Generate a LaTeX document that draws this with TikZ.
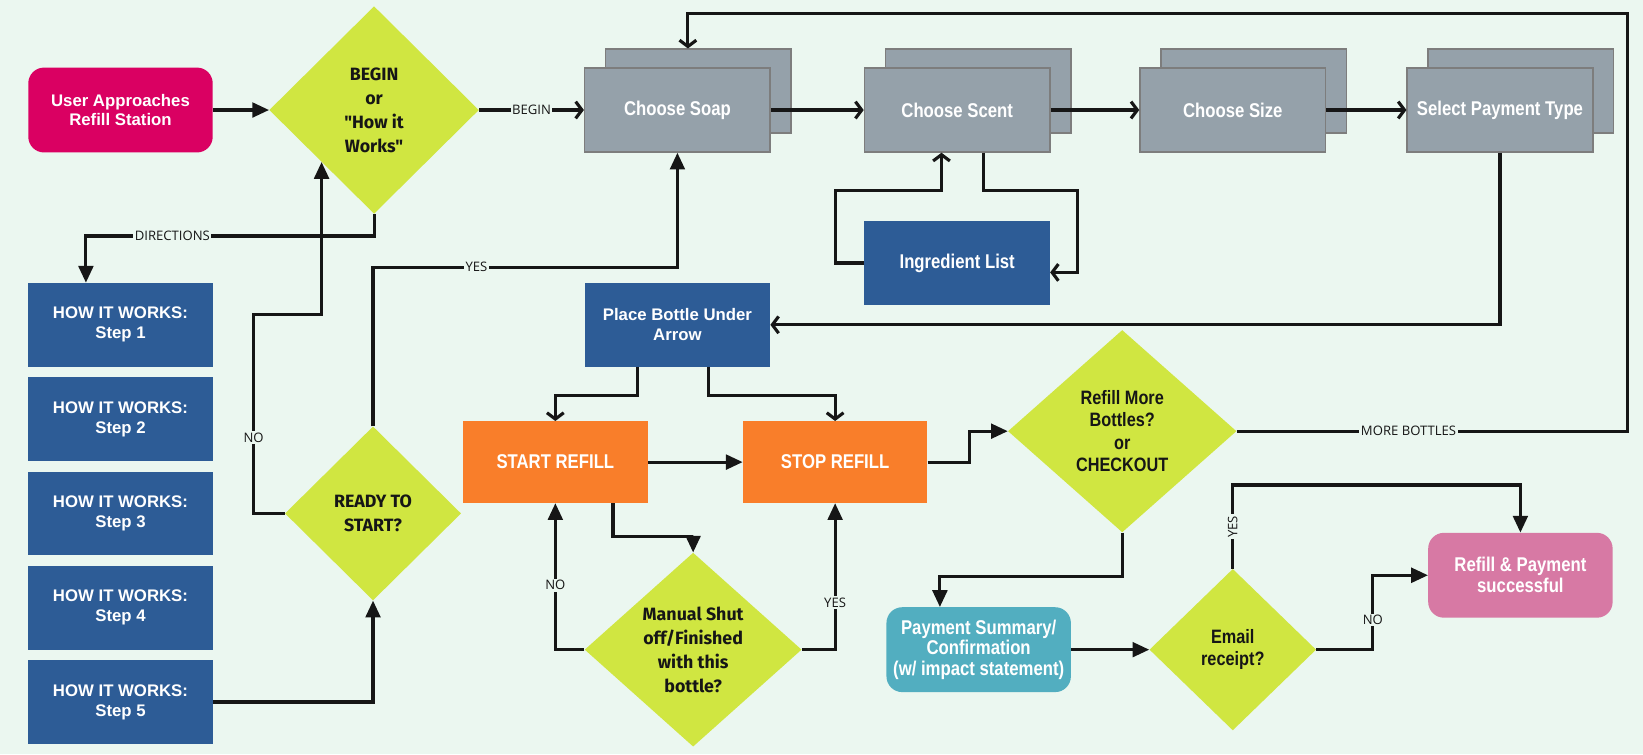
\documentclass[tikz,border=0pt]{standalone}
\usepackage{fontspec}
\setmainfont{Liberation Sans}
\newfontfamily\narrowfont[FakeStretch=0.84]{Liberation Sans}
\newfontfamily\plexfont{Fira Sans}
\newfontfamily\tagfont{Open Sans}
\usetikzlibrary{%
  arrows.meta,%
  shapes.geometric,%
  shadows,%
  calc%
}
\definecolor{bgmint}{HTML}{EBF7F0}
\definecolor{lime}{HTML}{D0E641}
\definecolor{stepblue}{HTML}{2D5C96}
\definecolor{soapgray}{HTML}{95A1AA}
\definecolor{soapedge}{HTML}{7D7D7D}
\definecolor{refillorange}{HTML}{F97E2A}
\definecolor{startpink}{HTML}{DA0062}
\definecolor{paycyan}{HTML}{52AEC0}
\definecolor{donepink}{HTML}{D779A4}
\definecolor{ink}{HTML}{161616}

\begin{document}
\begin{tikzpicture}[x=1pt,y=-1pt,
    wire/.style={line width=3pt,draw=ink},
    fwd/.style={wire,-{Triangle[length=16pt,width=14pt]}},
    opn/.style={wire,-{Straight Barb[length=6pt,width=16pt]}},
    lbl/.style={fill=bgmint,inner sep=1.5pt,text=ink,font=\tagfont\fontsize{12.5}{12.5}\selectfont},
    stepbox/.style={rectangle,fill=stepblue,minimum width=177pt,minimum height=80pt,inner sep=0pt,
      text=white,align=center,font=\bfseries\fontsize{16}{19}\selectfont},
    soapbox/.style={rectangle,fill=soapgray,draw=soapedge,line width=1.5pt,minimum width=177pt,
      minimum height=80pt,inner sep=0pt,text=white,font=\narrowfont\bfseries\fontsize{19}{20}\selectfont,
      copy shadow={shadow xshift=20pt,shadow yshift=18pt,fill=soapgray,draw=soapedge,line width=1.5pt}},
    refillbox/.style={rectangle,fill=refillorange,minimum width=176pt,minimum height=78pt,inner sep=0pt,
      text=white,font=\narrowfont\bfseries\fontsize{19}{20}\selectfont},
    endbox/.style={rectangle,rounded corners=15pt,minimum width=176pt,minimum height=81pt,inner sep=0pt,
      text=white,align=center},
    choice/.style={diamond,fill=lime,inner sep=0pt,align=center,text=ink},
    plexdia/.style={choice,font=\plexfont\bfseries\fontsize{17}{23}\selectfont},
    narrowdia/.style={choice,font=\narrowfont\bfseries\fontsize{18.5}{21.5}\selectfont}
  ]
  \useasboundingbox[fill=bgmint] (0,0) rectangle (1568,719.6);

  \node[endbox,fill=startpink,font=\bfseries\fontsize{16}{19}\selectfont] (user) at (115,105) {User Approaches\\Refill Station};
  \node[plexdia,minimum width=200pt,minimum height=198pt] (begin) at (357,105) {BEGIN\\or\\"How it\\Works"};

  \node[soapbox] (soap) at (646.5,105) {Choose Soap};
  \node[soapbox] (scent) at (913.5,105) {Choose Scent};
  \node[soapbox] (size) at (1176.5,105) {Choose Size};
  \node[soapbox] (pay) at (1431.5,105) {Select Payment Type};

  \foreach \n in {1,...,5}
    \node[stepbox] (step\n) at (115,{310+90*(\n-1)}) {HOW IT WORKS:\\Step \n};

  \node[stepbox,font=\narrowfont\bfseries\fontsize{19}{20}\selectfont] (ingr) at (913.5,251) {Ingredient List};
  \node[stepbox] (place) at (646.5,310) {Place Bottle Under\\Arrow};
  \node[plexdia,minimum width=168pt,minimum height=166pt] (ready) at (356,490) {READY TO\\START?};

  \node[refillbox] (start) at (530,441) {START REFILL};
  \node[refillbox] (stop) at (797,441) {STOP REFILL};
  \node[plexdia,minimum width=207pt,minimum height=185pt] (manual) at (661.5,620) {Manual Shut\\off/Finished\\with this\\bottle?};

  \node[narrowdia,minimum width=218pt,minimum height=193pt] (refill) at (1071,411.5) {Refill More\\Bottles?\\or\\CHECKOUT};
  \node[endbox,fill=paycyan,font=\narrowfont\bfseries\fontsize{19}{19.5}\selectfont] (paysum) at (934,620) {Payment Summary/\\Confirmation\\(w/ impact statement)};
  \node[narrowdia,minimum width=159pt,minimum height=154pt] (email) at (1176.5,620) {Email\\receipt?};
  \node[endbox,fill=donepink,font=\narrowfont\bfseries\fontsize{19}{20}\selectfont] (success) at (1451,549) {Refill \& Payment\\successful};

  \draw[fwd] (user) -- (begin);
  \draw[opn] (begin) -- (soap) node[lbl,midway]{BEGIN};
  \draw[opn] (soap) -- (scent);
  \draw[opn] (scent) -- (size);
  \draw[opn] (size) -- (pay);
  \draw[fwd] (begin.south) -- ++(0,21) -| ([xshift=-33pt]step1.north) node[lbl,pos=0.35]{DIRECTIONS};
  \draw[fwd] (ready.west) -| (242,300) node[lbl,pos=0.69]{NO} -| ($(begin.west)!.5!(begin.south)$);
  \draw[fwd] (ready.north) -- (356,255) -| (soap.south) node[lbl,pos=0.17]{YES};
  \draw[fwd] (step5.east) -| (ready.south);
  \draw[opn] (ingr.west) -| (797,182) -| ([xshift=-15pt]scent.south);
  \draw[opn] ([xshift=25pt]scent.south) |- (1028,182) |- ([yshift=-9pt]ingr.east);
  \draw[opn] (pay.south) |- (place.east);
  \draw[opn] ([xshift=-38pt]place.south) -- ++(0,27) -| (start.north);
  \draw[opn] ([xshift=30pt]place.south) -- ++(0,27) -| (stop.north);
  \draw[fwd] (start) -- (stop);
  \draw[fwd] ([xshift=55pt]start.south) -- ++(0,32) -| (manual.north);
  \draw[fwd] (manual.west) -| (start.south) node[lbl,pos=0.72]{NO};
  \draw[fwd] (manual.east) -| (stop.south) node[lbl,pos=0.66]{YES};
  \draw[fwd] (stop.east) -- ++(40,0) |- (refill.west);
  \draw[opn] (refill.east) -| (1553,13) node[lbl,pos=0.22]{MORE BOTTLES} -| ([xshift=10pt,yshift=18pt]soap.north);
  \draw[fwd] (refill.south) -- ++(0,42) -| ([xshift=-37pt]paysum.north);
  \draw[fwd] (paysum) -- (email);
  \draw[fwd] (email.north) -- ++(0,-80) node[lbl,midway,rotate=90]{YES} -| (success.north);
  \draw[fwd] (email.east) -- ++(54,0) |- (success.west) node[lbl,pos=0.2]{NO};
\end{tikzpicture}
\end{document}
